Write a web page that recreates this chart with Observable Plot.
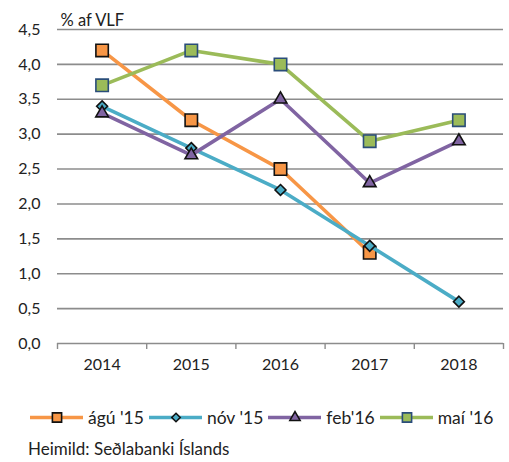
<!DOCTYPE html>
<html>
<head>
<meta charset="utf-8">
<script src="https://cdn.jsdelivr.net/npm/d3@7"></script>
<script src="https://cdn.jsdelivr.net/npm/@observablehq/plot@0.6"></script>
<style>
  body { margin: 0; background: #fff; font-family: Lato, "Open Sans", sans-serif; color: #222; }
  #wrap { width: 509px; height: 462px; position: relative; overflow: hidden; }
  #legend { display: flex; align-items: center; margin-left: 30px; margin-top: 22px; gap: 5px; font-size: 17.5px; height: 20px; white-space: nowrap; }
  .item { display: flex; align-items: center; gap: 5px; }
  #source { margin-left: 28px; margin-top: 11px; font-size: 17px; white-space: nowrap; }
</style>
</head>
<body>
<div id="wrap">
  <div id="chart"></div>
  <div id="legend"></div>
  <div id="source"></div>
</div>
<script>
const years = [2014, 2015, 2016, 2017, 2018];
const seriesNames = ["ágú '15", "nóv '15", "feb'16", "maí '16"];
const aug15 = [4.2, 3.2, 2.5, 1.3, null];
const nov15 = [3.4, 2.8, 2.2, 1.4, 0.6];
const feb16 = [3.3, 2.7, 3.5, 2.3, 2.9];
const mai16 = [3.7, 4.2, 4.0, 2.9, 3.2];
const yTicks = [0, 0.5, 1, 1.5, 2, 2.5, 3, 3.5, 4, 4.5];
const yTitle = "% af VLF";
const sourceText = "Heimild: Seðlabanki Íslands";

const styles = [
  {color: "#F79646", symbol: "square", r: 7, lr: 5.2, mstroke: "#111"},
  {color: "#4BACC6", symbol: "diamond2", r: 4.9, lr: 3.8, mstroke: "#111"},
  {color: "#8064A2", symbol: "triangle", r: 4.7, lr: 3.8, mstroke: "#111"},
  {color: "#9BBB59", symbol: "square", r: 7, lr: 5.2, mstroke: "#2A4D7A"}
];
const allValues = [aug15, nov15, feb16, mai16];
const series = seriesNames.map((name, i) => ({
  name,
  ...styles[i],
  data: years.map((y, j) => ({year: y, value: allValues[i][j]})).filter(d => d.value != null)
}));

const boundaries = [years[0] - 0.5, ...years.map(y => y + 0.5)];
const fmt = d => d.toFixed(1).replace(".", ",");

const marks = [
  Plot.ruleY(yTicks, {stroke: "#8c8c8c", strokeWidth: 1.6}),
  Plot.axisY({ticks: yTicks, tickFormat: fmt, tickSize: 0, tickPadding: 17, fontSize: 16, label: null}),
  Plot.axisX({ticks: years, tickFormat: d => String(d), tickSize: 0, tickPadding: 15, fontSize: 16, label: null}),
  Plot.axisX({ticks: boundaries, tickFormat: () => "", tickSize: 6, stroke: "#8c8c8c", strokeWidth: 1.4, label: null}),
  Plot.text([yTitle], {frameAnchor: "top-left", text: d => d, dx: 3, dy: -15, textAnchor: "start", fontSize: 16.5, fill: "#222"})
];
for (const s of series) {
  marks.push(Plot.line(s.data, {x: "year", y: "value", stroke: s.color, strokeWidth: 3.6}));
  marks.push(Plot.dot(s.data, {x: "year", y: "value", symbol: () => s.symbol, r: s.r, fill: s.color, stroke: s.mstroke, strokeWidth: 1.6}));
}

const chart = Plot.plot({
  width: 509,
  height: 385,
  marginTop: 29,
  marginBottom: 42,
  marginLeft: 57,
  marginRight: 6,
  style: {fontFamily: "Lato, 'Open Sans', sans-serif", fontSize: "16px", color: "#222", background: "#fff"},
  x: {type: "linear", domain: [boundaries[0], boundaries[boundaries.length - 1]], axis: null},
  y: {domain: [0, 4.5], axis: null},
  symbol: {type: "identity"},
  marks
});
document.getElementById("chart").appendChild(chart);

const legend = document.getElementById("legend");
for (const s of series) {
  const item = document.createElement("div");
  item.className = "item";
  const sw = Plot.plot({
    width: 53, height: 16, margin: 0,
    x: {domain: [0, 1], axis: null}, y: {domain: [0, 1], axis: null},
    symbol: {type: "identity"},
    style: {background: "transparent"},
    marks: [
      Plot.ruleY([0.5], {x1: 0, x2: 1, stroke: s.color, strokeWidth: 3.6}),
      Plot.dot([0.5], {x: 0.5, y: 0.5, symbol: () => s.symbol, r: s.lr, fill: s.color, stroke: s.mstroke, strokeWidth: 1.6})
    ]
  });
  item.appendChild(sw);
  const t = document.createElement("span");
  t.textContent = s.name;
  item.appendChild(t);
  legend.appendChild(item);
}
document.getElementById("source").textContent = sourceText;
</script>
</body>
</html>
